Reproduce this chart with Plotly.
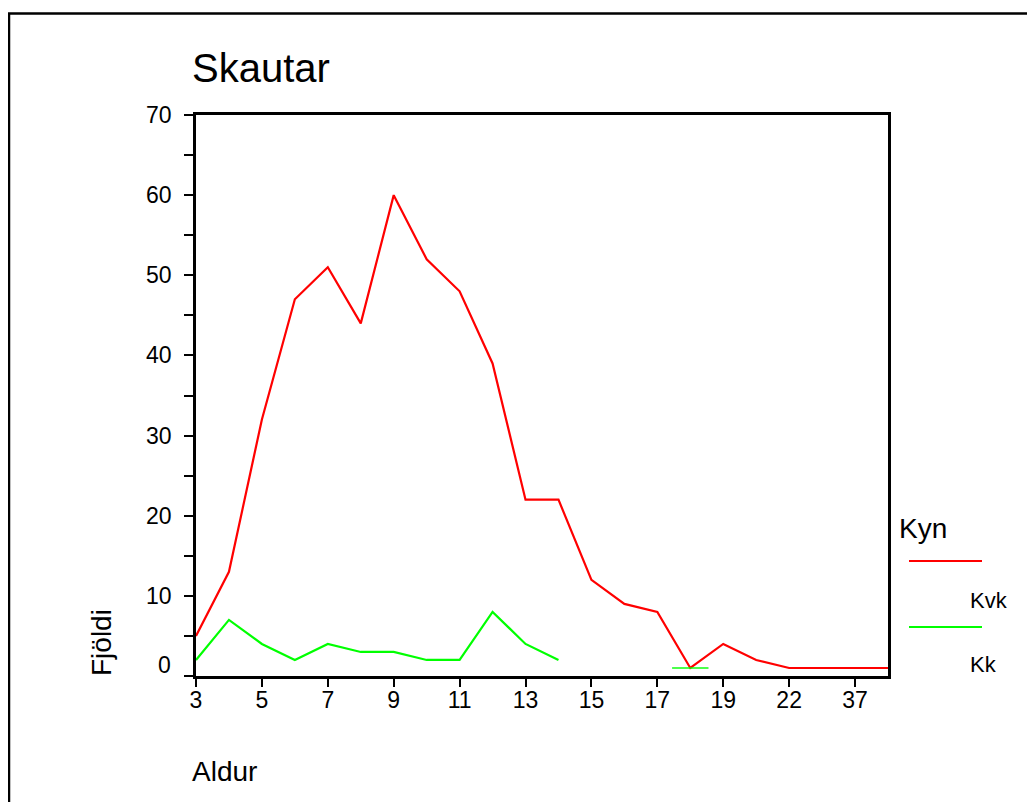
import plotly.graph_objects as go

# ---- data ----
ages = ["3", "4", "5", "6", "7", "8", "9", "10", "11", "12", "13", "14", "15",
        "16", "17", "18", "19", "20", "22", "25", "37", "42"]
tick_labels = ["3", "5", "7", "9", "11", "13", "15", "17", "19", "22", "37"]
kvk = [5, 13, 32, 47, 51, 44, 60, 52, 48, 39, 22, 22, 12, 9, 8, 1, 4, 2, 1, 1, 1, 1]
kk = [2, 7, 4, 2, 4, 3, 3, 2, 2, 8, 4, 2, None, None, None, 1, None, None,
      None, None, None, None]
series_names = ["Kvk", "Kk"]
title_text = "Skautar"
x_title = "Aldur"
y_title = "Fjöldi"
legend_title = "Kyn"

# ---- layout geometry (window pixels) ----
W, H = 1035, 802
OFF = 8  # page body margin
L, R, T, B = 196, 888, 115, 676
PW, PH = R - L, B - T
FONT = "Liberation Sans, Arial, sans-serif"
RED, GREEN = "#FF0000", "#00FF00"
TICK_SIZE = 23


def px(x):
    return (x - L) / PW


def py(y):
    return (B - y) / PH


# isolated points get a short horizontal dash (as in the original)
def iso_sizes(vals):
    out = []
    for i, v in enumerate(vals):
        prev_ok = i > 0 and vals[i - 1] is not None
        next_ok = i < len(vals) - 1 and vals[i + 1] is not None
        out.append(26 if (v is not None and not prev_ok and not next_ok) else 0)
    return out


fig = go.Figure()
for name, vals, col in [(series_names[0], kvk, RED), (series_names[1], kk, GREEN)]:
    fig.add_trace(go.Scatter(
        x=ages, y=vals, name=name, mode="lines+markers",
        line=dict(color=col, width=2.2),
        marker=dict(symbol="line-ew", size=iso_sizes(vals),
                    line=dict(color=col, width=2.2), color=col),
        connectgaps=False, showlegend=False, cliponaxis=False,
    ))

fig.update_layout(
    width=W, height=H,
    margin=dict(l=L - OFF, r=W - (R - OFF), t=T - OFF, b=H - (B - OFF), pad=0),
    paper_bgcolor="white", plot_bgcolor="white",
    font=dict(family=FONT, color="black", size=TICK_SIZE),
    showlegend=False,
)
fig.update_xaxes(
    type="category", categoryorder="array", categoryarray=ages,
    range=[0, len(ages) - 1],
    tickmode="array", tickvals=tick_labels, ticktext=tick_labels,
    ticks="outside", ticklen=8, tickwidth=2, tickcolor="black",
    showline=True, linewidth=2.5, linecolor="black", mirror=True,
    showgrid=False, zeroline=False,
    tickfont=dict(size=TICK_SIZE, family=FONT, color="black"),
    ticklabelstandoff=-6,
)
fig.update_yaxes(
    range=[0, 70],
    tickmode="array", tickvals=list(range(0, 71, 10)),
    ticktext=[""] + [str(v) for v in range(10, 71, 10)],
    ticks="outside", ticklen=9, tickwidth=2, tickcolor="black",
    minor=dict(ticks="outside", ticklen=9, tickwidth=2, tickcolor="black",
               tickvals=list(range(5, 70, 10))),
    showline=True, linewidth=2.5, linecolor="black", mirror=True,
    showgrid=False, zeroline=False,
    tickfont=dict(size=TICK_SIZE, family=FONT, color="black"),
    ticklabelstandoff=8,
)

ann = []
# zero label sits slightly above the axis
ann.append(dict(text="0", xref="paper", yref="paper", x=px(173), y=py(665),
                xanchor="right", yanchor="middle", showarrow=False,
                font=dict(size=TICK_SIZE, family=FONT)))
ann.append(dict(text=title_text, xref="paper", yref="paper", x=px(190), y=py(68),
                xanchor="left", yanchor="middle", showarrow=False,
                font=dict(size=40, family=FONT)))
ann.append(dict(text=x_title, xref="paper", yref="paper", x=px(190), y=py(771),
                xanchor="left", yanchor="middle", showarrow=False,
                font=dict(size=28, family=FONT)))
ann.append(dict(text=y_title, xref="paper", yref="paper", x=px(101), y=py(643),
                xanchor="center", yanchor="middle", showarrow=False, textangle=-90,
                font=dict(size=28, family=FONT)))
ann.append(dict(text=legend_title, xref="paper", yref="paper", x=px(897), y=py(528),
                xanchor="left", yanchor="middle", showarrow=False,
                font=dict(size=28, family=FONT)))
for lbl, ytxt in [(series_names[0], 600), (series_names[1], 664)]:
    ann.append(dict(text=lbl, xref="paper", yref="paper", x=px(968), y=py(ytxt),
                    xanchor="left", yanchor="middle", showarrow=False,
                    font=dict(size=22, family=FONT)))
fig.update_layout(annotations=ann)

shapes = []
for col, yl in [(RED, 561), (GREEN, 627)]:
    shapes.append(dict(type="line", xref="paper", yref="paper",
                       x0=px(909), x1=px(982), y0=py(yl), y1=py(yl),
                       line=dict(color=col, width=2.2)))
# outer frame (extends past the window on right and bottom)
shapes.append(dict(type="rect", xref="paper", yref="paper",
                   x0=px(9), x1=px(1060), y0=py(13.5), y1=py(830),
                   line=dict(color="black", width=2.5)))
fig.update_layout(shapes=shapes)

fig.write_html("out.html")
